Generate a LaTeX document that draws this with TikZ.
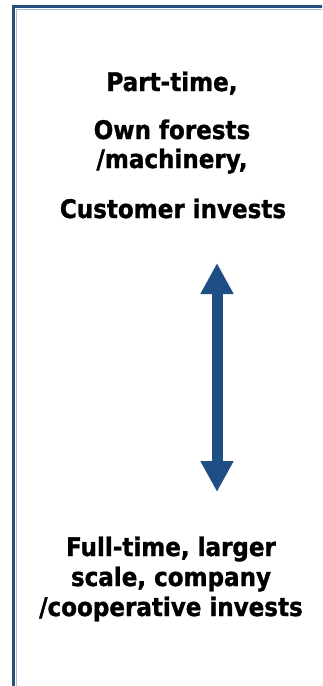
\documentclass[tikz,border=0pt]{standalone}
\usepackage{fontspec}
\setmainfont{DejaVu Sans Condensed}[BoldFont={DejaVu Sans Condensed Bold}, BoldFeatures={FakeBold=1.2}]
\usetikzlibrary{arrows.meta}
\definecolor{framedark}{HTML}{274F80}
\definecolor{framelight}{HTML}{A9BCD6}
\definecolor{arrowblue}{HTML}{1F4E85}
\tikzset{
  lbl/.style={anchor=base, inner sep=0pt, font=\bfseries\fontsize{25.6}{26}\selectfont, text=black},
  dbl/.style={arrowblue, line width=11pt, {Triangle[length=31pt,width=31pt]}-{Triangle[length=31pt,width=31pt]}}
}
\begin{document}
\begin{tikzpicture}[x=1pt,y=-1pt]
\useasboundingbox (0,0) rectangle (322,686);
\clip (0,0) rectangle (322,686);
\draw[framelight, line width=1.2pt] (16.3,9.3) rectangle (340,700);
\draw[framedark, line width=3pt] (13.5,6.5) rectangle (340,700);
\node[lbl] (t1) at (172,91) {Part-time,};
\node[lbl] (t2) at (172,139) {Own forests};
\node[lbl] (t3) at (172,168) {/machinery,};
\node[lbl] (t4) at (173,218) {Customer invests};
\node[lbl] (b1) at (171,556) {Full-time, larger};
\node[lbl] (b2) at (171,586) {scale, company};
\node[lbl] (b3) at (171,616) {/cooperative invests};
\coordinate (atop) at (217,263);
\coordinate (abot) at (217,492);
\draw[dbl] (atop) -- (abot);
\end{tikzpicture}
\end{document}
